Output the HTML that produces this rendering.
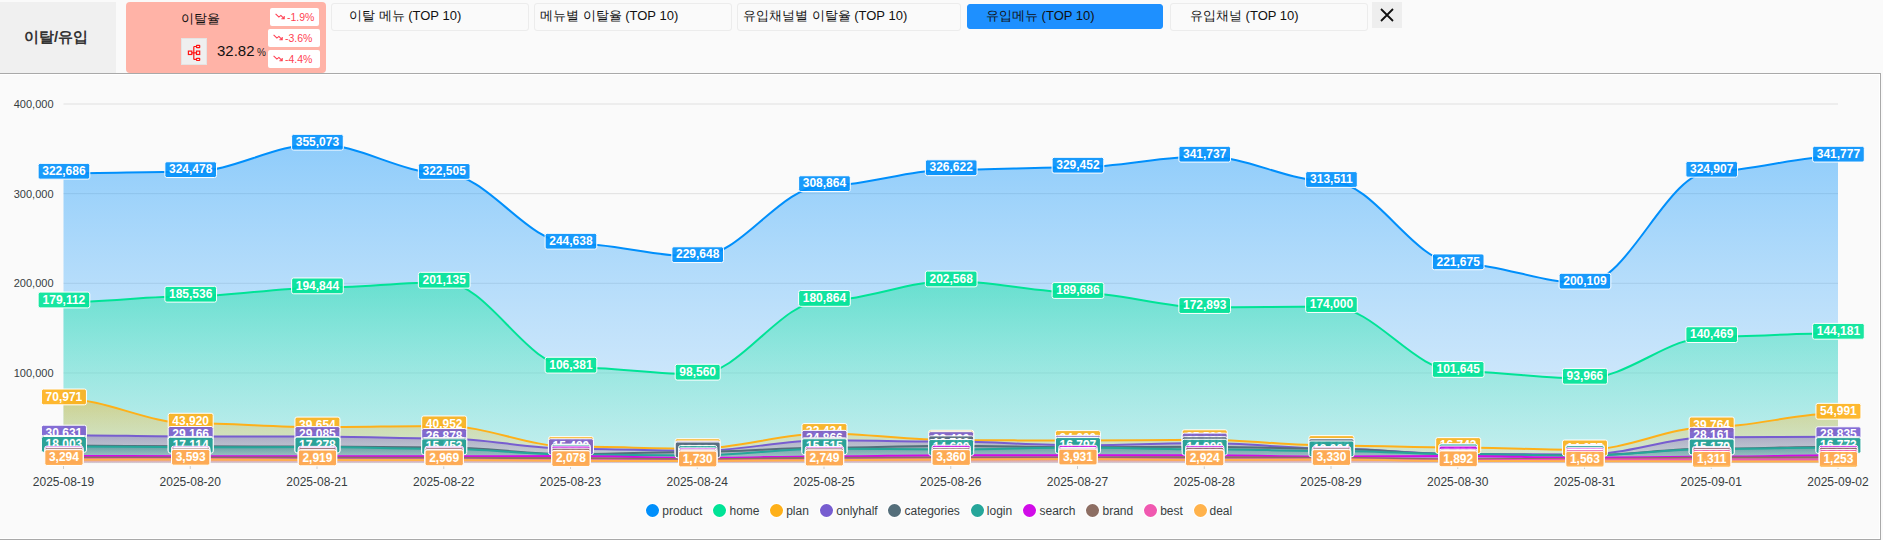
<!DOCTYPE html>
<html><head><meta charset="utf-8"><style>
*{margin:0;padding:0;box-sizing:border-box}
html,body{width:1883px;height:540px;overflow:hidden;background:#fafafa;font-family:"Liberation Sans",sans-serif}
.abs{position:absolute}
.tab{position:absolute;border:1px solid #ececec;border-radius:3px;background:#fafafa;font-size:13px;color:#111;white-space:nowrap}
.tab span{position:absolute;top:3px}
.badge{position:absolute;background:#fff;border-radius:2px;color:#ff3f52;font-size:10.5px;line-height:19px;white-space:nowrap;text-align:left}
</style></head><body>
<div class="abs" style="left:0;top:2px;width:116px;height:71px;background:#f0f0f0"></div>
<div class="abs" style="left:0;top:28px;width:112px;text-align:center;font-size:15px;font-weight:bold;color:#333;line-height:18px">이탈/유입</div>
<div class="abs" style="left:126px;top:2px;width:200px;height:71px;background:#ffb3a7;border-radius:4px"></div>
<div class="abs" style="left:181px;top:11px;font-size:13px;line-height:15px;color:#111">이탈율</div>
<div class="abs" style="left:181px;top:38px;width:26px;height:27px;background:#efefef;border:1px solid #e4e4e4"></div>
<svg class="abs" style="left:186px;top:44px" width="16" height="18" viewBox="0 0 16 18"><g fill="none" stroke="#ff1414" stroke-width="1.2"><rect x="2.4" y="7.1" width="3.4" height="3.4"/><rect x="10.5" y="1.4" width="3.2" height="2.2" rx="0.4"/><rect x="10.5" y="7.1" width="3.2" height="3.4"/><rect x="10.5" y="14.3" width="3.2" height="2.2" rx="0.4"/><path d="M5.8 8.8H7.8M7.8 2.5V15.4M7.8 2.5H10.5M7.8 8.8H10.5M7.8 15.4H10.5"/></g></svg>
<div class="abs" style="left:217px;top:42px;font-size:15px;line-height:18px;color:#111">32.82</div>
<div class="abs" style="left:257px;top:47px;font-size:10px;line-height:12px;color:#222">%</div>
<div class="badge" style="left:270px;top:8px;width:49px;height:18px;padding-left:5px"><svg width="10" height="7" viewBox="0 0 10 7" style="display:inline-block;vertical-align:1px;margin-right:2px"><path d="M0.6 0.8L3.9 4.1L5.9 2.4L9 5.6M6.4 5.8H9.2V3.1" fill="none" stroke="#ff3f52" stroke-width="1.1"/></svg>-1.9%</div>
<div class="badge" style="left:268px;top:29px;width:52px;height:18px;padding-left:5px"><svg width="10" height="7" viewBox="0 0 10 7" style="display:inline-block;vertical-align:1px;margin-right:2px"><path d="M0.6 0.8L3.9 4.1L5.9 2.4L9 5.6M6.4 5.8H9.2V3.1" fill="none" stroke="#ff3f52" stroke-width="1.1"/></svg>-3.6%</div>
<div class="badge" style="left:268px;top:50px;width:52px;height:18px;padding-left:5px"><svg width="10" height="7" viewBox="0 0 10 7" style="display:inline-block;vertical-align:1px;margin-right:2px"><path d="M0.6 0.8L3.9 4.1L5.9 2.4L9 5.6M6.4 5.8H9.2V3.1" fill="none" stroke="#ff3f52" stroke-width="1.1"/></svg>-4.4%</div>
<div class="tab" style="left:331px;top:3px;width:198px;height:28px"><span style="left:17px">이탈 메뉴 (TOP 10)</span></div>
<div class="tab" style="left:534px;top:3px;width:198px;height:28px"><span style="left:5px">메뉴별 이탈율 (TOP 10)</span></div>
<div class="tab" style="left:737px;top:3px;width:224px;height:28px"><span style="left:5px">유입채널별 이탈율 (TOP 10)</span></div>
<div class="tab" style="left:967px;top:4px;width:196px;height:25px;background:#1e90ff;border-color:#1e90ff"><span style="left:18px;top:2px">유입메뉴 (TOP 10)</span></div>
<div class="tab" style="left:1170px;top:3px;width:198px;height:28px"><span style="left:19px">유입채널 (TOP 10)</span></div>
<div class="abs" style="left:1372px;top:2px;width:30px;height:26px;background:#eeeeee"></div>
<svg class="abs" style="left:1380px;top:8px" width="14" height="14"><path d="M1 1L13 13M13 1L1 13" stroke="#111" stroke-width="1.8"/></svg>
<div class="abs" style="left:0;top:73px;width:1881px;height:467px;border-top:1px solid #a9a9a9;border-right:1px solid #a9a9a9;border-bottom:1px solid #a9a9a9"></div>
<div class="abs" style="left:0;top:74px;width:1880px;height:465px;border-top:1px solid #fff;border-right:1px solid #fff;border-bottom:1px solid #fff"></div>
<svg width="1883" height="540" style="position:absolute;left:0;top:0" font-family="Liberation Sans, sans-serif">
<defs>
<linearGradient id="g0" x1="0" y1="0" x2="0" y2="1"><stop offset="0" stop-color="#008FFB" stop-opacity="0.430"/><stop offset="1" stop-color="#80c7fd" stop-opacity="0.250"/></linearGradient>
<linearGradient id="g1" x1="0" y1="0" x2="0" y2="1"><stop offset="0" stop-color="#00E396" stop-opacity="0.430"/><stop offset="1" stop-color="#80f1ca" stop-opacity="0.250"/></linearGradient>
<linearGradient id="g2" x1="0" y1="0" x2="0" y2="1"><stop offset="0" stop-color="#FEB019" stop-opacity="0.430"/><stop offset="1" stop-color="#fed88c" stop-opacity="0.250"/></linearGradient>
<linearGradient id="g3" x1="0" y1="0" x2="0" y2="1"><stop offset="0" stop-color="#775DD0" stop-opacity="0.430"/><stop offset="1" stop-color="#bbaee8" stop-opacity="0.250"/></linearGradient>
<linearGradient id="g4" x1="0" y1="0" x2="0" y2="1"><stop offset="0" stop-color="#546E7A" stop-opacity="0.430"/><stop offset="1" stop-color="#aab6bc" stop-opacity="0.250"/></linearGradient>
<linearGradient id="g5" x1="0" y1="0" x2="0" y2="1"><stop offset="0" stop-color="#26A69A" stop-opacity="0.430"/><stop offset="1" stop-color="#92d2cc" stop-opacity="0.250"/></linearGradient>
<linearGradient id="g6" x1="0" y1="0" x2="0" y2="1"><stop offset="0" stop-color="#D10CE8" stop-opacity="0.430"/><stop offset="1" stop-color="#e886f4" stop-opacity="0.250"/></linearGradient>
<linearGradient id="g7" x1="0" y1="0" x2="0" y2="1"><stop offset="0" stop-color="#8D6E63" stop-opacity="0.430"/><stop offset="1" stop-color="#c6b6b1" stop-opacity="0.250"/></linearGradient>
<linearGradient id="g8" x1="0" y1="0" x2="0" y2="1"><stop offset="0" stop-color="#F058B0" stop-opacity="0.430"/><stop offset="1" stop-color="#f8acd8" stop-opacity="0.250"/></linearGradient>
<linearGradient id="g9" x1="0" y1="0" x2="0" y2="1"><stop offset="0" stop-color="#FFB24B" stop-opacity="0.430"/><stop offset="1" stop-color="#ffd8a5" stop-opacity="0.250"/></linearGradient>
</defs>
<line x1="63.50" y1="462.60" x2="1838.00" y2="462.60" stroke="#e0e0e0" stroke-width="1"/>
<line x1="63.50" y1="372.95" x2="1838.00" y2="372.95" stroke="#e0e0e0" stroke-width="1"/>
<line x1="63.50" y1="283.30" x2="1838.00" y2="283.30" stroke="#e0e0e0" stroke-width="1"/>
<line x1="63.50" y1="193.65" x2="1838.00" y2="193.65" stroke="#e0e0e0" stroke-width="1"/>
<line x1="63.50" y1="104.00" x2="1838.00" y2="104.00" stroke="#e0e0e0" stroke-width="1"/>
<text x="53.5" y="376.85" text-anchor="end" font-size="11" fill="#373d3f">100,000</text>
<text x="53.5" y="287.20" text-anchor="end" font-size="11" fill="#373d3f">200,000</text>
<text x="53.5" y="197.55" text-anchor="end" font-size="11" fill="#373d3f">300,000</text>
<text x="53.5" y="107.90" text-anchor="end" font-size="11" fill="#373d3f">400,000</text>
<path d="M63.50,173.31C107.86,173.31 145.89,171.71 190.25,171.71C234.61,171.71 272.64,144.28 317.00,144.28C361.36,144.28 399.39,173.47 443.75,173.47C488.11,173.47 526.14,243.28 570.50,243.28C614.86,243.28 652.89,256.72 697.25,256.72C741.61,256.72 779.64,185.70 824.00,185.70C868.36,185.70 906.39,169.78 950.75,169.78C995.11,169.78 1033.14,167.25 1077.50,167.25C1121.86,167.25 1159.89,156.23 1204.25,156.23C1248.61,156.23 1286.64,181.54 1331.00,181.54C1375.36,181.54 1413.39,263.87 1457.75,263.87C1502.11,263.87 1540.14,283.20 1584.50,283.20C1628.86,283.20 1666.89,171.32 1711.25,171.32C1755.61,171.32 1793.64,156.20 1838.00,156.20L1838.00,462.60L63.50,462.60Z" fill="url(#g0)"/>
<path d="M63.50,173.31C107.86,173.31 145.89,171.71 190.25,171.71C234.61,171.71 272.64,144.28 317.00,144.28C361.36,144.28 399.39,173.47 443.75,173.47C488.11,173.47 526.14,243.28 570.50,243.28C614.86,243.28 652.89,256.72 697.25,256.72C741.61,256.72 779.64,185.70 824.00,185.70C868.36,185.70 906.39,169.78 950.75,169.78C995.11,169.78 1033.14,167.25 1077.50,167.25C1121.86,167.25 1159.89,156.23 1204.25,156.23C1248.61,156.23 1286.64,181.54 1331.00,181.54C1375.36,181.54 1413.39,263.87 1457.75,263.87C1502.11,263.87 1540.14,283.20 1584.50,283.20C1628.86,283.20 1666.89,171.32 1711.25,171.32C1755.61,171.32 1793.64,156.20 1838.00,156.20" fill="none" stroke="#008FFB" stroke-width="2" stroke-linecap="butt"/>
<path d="M63.50,302.03C107.86,302.03 145.89,296.27 190.25,296.27C234.61,296.27 272.64,287.92 317.00,287.92C361.36,287.92 399.39,282.28 443.75,282.28C488.11,282.28 526.14,367.23 570.50,367.23C614.86,367.23 652.89,374.24 697.25,374.24C741.61,374.24 779.64,300.46 824.00,300.46C868.36,300.46 906.39,281.00 950.75,281.00C995.11,281.00 1033.14,292.55 1077.50,292.55C1121.86,292.55 1159.89,307.60 1204.25,307.60C1248.61,307.60 1286.64,306.61 1331.00,306.61C1375.36,306.61 1413.39,371.48 1457.75,371.48C1502.11,371.48 1540.14,378.36 1584.50,378.36C1628.86,378.36 1666.89,336.67 1711.25,336.67C1755.61,336.67 1793.64,333.34 1838.00,333.34L1838.00,462.60L63.50,462.60Z" fill="url(#g1)"/>
<path d="M63.50,302.03C107.86,302.03 145.89,296.27 190.25,296.27C234.61,296.27 272.64,287.92 317.00,287.92C361.36,287.92 399.39,282.28 443.75,282.28C488.11,282.28 526.14,367.23 570.50,367.23C614.86,367.23 652.89,374.24 697.25,374.24C741.61,374.24 779.64,300.46 824.00,300.46C868.36,300.46 906.39,281.00 950.75,281.00C995.11,281.00 1033.14,292.55 1077.50,292.55C1121.86,292.55 1159.89,307.60 1204.25,307.60C1248.61,307.60 1286.64,306.61 1331.00,306.61C1375.36,306.61 1413.39,371.48 1457.75,371.48C1502.11,371.48 1540.14,378.36 1584.50,378.36C1628.86,378.36 1666.89,336.67 1711.25,336.67C1755.61,336.67 1793.64,333.34 1838.00,333.34" fill="none" stroke="#00E396" stroke-width="2" stroke-linecap="butt"/>
<path d="M63.50,398.97C107.86,398.97 145.89,423.23 190.25,423.23C234.61,423.23 272.64,427.05 317.00,427.05C361.36,427.05 399.39,425.89 443.75,425.89C488.11,425.89 526.14,446.61 570.50,446.61C614.86,446.61 652.89,448.66 697.25,448.66C741.61,448.66 779.64,433.52 824.00,433.52C868.36,433.52 906.39,440.19 950.75,440.19C995.11,440.19 1033.14,440.55 1077.50,440.55C1121.86,440.55 1159.89,439.74 1204.25,439.74C1248.61,439.74 1286.64,445.57 1331.00,445.57C1375.36,445.57 1413.39,447.59 1457.75,447.59C1502.11,447.59 1540.14,449.98 1584.50,449.98C1628.86,449.98 1666.89,426.95 1711.25,426.95C1755.61,426.95 1793.64,413.30 1838.00,413.30L1838.00,462.60L63.50,462.60Z" fill="url(#g2)"/>
<path d="M63.50,398.97C107.86,398.97 145.89,423.23 190.25,423.23C234.61,423.23 272.64,427.05 317.00,427.05C361.36,427.05 399.39,425.89 443.75,425.89C488.11,425.89 526.14,446.61 570.50,446.61C614.86,446.61 652.89,448.66 697.25,448.66C741.61,448.66 779.64,433.52 824.00,433.52C868.36,433.52 906.39,440.19 950.75,440.19C995.11,440.19 1033.14,440.55 1077.50,440.55C1121.86,440.55 1159.89,439.74 1204.25,439.74C1248.61,439.74 1286.64,445.57 1331.00,445.57C1375.36,445.57 1413.39,447.59 1457.75,447.59C1502.11,447.59 1540.14,449.98 1584.50,449.98C1628.86,449.98 1666.89,426.95 1711.25,426.95C1755.61,426.95 1793.64,413.30 1838.00,413.30" fill="none" stroke="#FEB019" stroke-width="2" stroke-linecap="butt"/>
<path d="M63.50,435.14C107.86,435.14 145.89,436.45 190.25,436.45C234.61,436.45 272.64,436.53 317.00,436.53C361.36,436.53 399.39,438.50 443.75,438.50C488.11,438.50 526.14,448.72 570.50,448.72C614.86,448.72 652.89,450.95 697.25,450.95C741.61,450.95 779.64,440.31 824.00,440.31C868.36,440.31 906.39,441.62 950.75,441.62C995.11,441.62 1033.14,445.30 1077.50,445.30C1121.86,445.30 1159.89,443.06 1204.25,443.06C1248.61,443.06 1286.64,448.44 1331.00,448.44C1375.36,448.44 1413.39,453.99 1457.75,453.99C1502.11,453.99 1540.14,454.53 1584.50,454.53C1628.86,454.53 1666.89,437.35 1711.25,437.35C1755.61,437.35 1793.64,436.75 1838.00,436.75L1838.00,462.60L63.50,462.60Z" fill="url(#g3)"/>
<path d="M63.50,435.14C107.86,435.14 145.89,436.45 190.25,436.45C234.61,436.45 272.64,436.53 317.00,436.53C361.36,436.53 399.39,438.50 443.75,438.50C488.11,438.50 526.14,448.72 570.50,448.72C614.86,448.72 652.89,450.95 697.25,450.95C741.61,450.95 779.64,440.31 824.00,440.31C868.36,440.31 906.39,441.62 950.75,441.62C995.11,441.62 1033.14,445.30 1077.50,445.30C1121.86,445.30 1159.89,443.06 1204.25,443.06C1248.61,443.06 1286.64,448.44 1331.00,448.44C1375.36,448.44 1413.39,453.99 1457.75,453.99C1502.11,453.99 1540.14,454.53 1584.50,454.53C1628.86,454.53 1666.89,437.35 1711.25,437.35C1755.61,437.35 1793.64,436.75 1838.00,436.75" fill="none" stroke="#775DD0" stroke-width="2" stroke-linecap="butt"/>
<path d="M63.50,445.39C107.86,445.39 145.89,446.37 190.25,446.37C234.61,446.37 272.64,446.55 317.00,446.55C361.36,446.55 399.39,447.54 443.75,447.54C488.11,447.54 526.14,454.08 570.50,454.08C614.86,454.08 652.89,451.93 697.25,451.93C741.61,451.93 779.64,447.81 824.00,447.81C868.36,447.81 906.39,445.84 950.75,445.84C995.11,445.84 1033.14,447.18 1077.50,447.18C1121.86,447.18 1159.89,446.64 1204.25,446.64C1248.61,446.64 1286.64,448.70 1331.00,448.70C1375.36,448.70 1413.39,454.17 1457.75,454.17C1502.11,454.17 1540.14,455.43 1584.50,455.43C1628.86,455.43 1666.89,448.61 1711.25,448.61C1755.61,448.61 1793.64,446.64 1838.00,446.64L1838.00,462.60L63.50,462.60Z" fill="url(#g4)"/>
<path d="M63.50,445.39C107.86,445.39 145.89,446.37 190.25,446.37C234.61,446.37 272.64,446.55 317.00,446.55C361.36,446.55 399.39,447.54 443.75,447.54C488.11,447.54 526.14,454.08 570.50,454.08C614.86,454.08 652.89,451.93 697.25,451.93C741.61,451.93 779.64,447.81 824.00,447.81C868.36,447.81 906.39,445.84 950.75,445.84C995.11,445.84 1033.14,447.18 1077.50,447.18C1121.86,447.18 1159.89,446.64 1204.25,446.64C1248.61,446.64 1286.64,448.70 1331.00,448.70C1375.36,448.70 1413.39,454.17 1457.75,454.17C1502.11,454.17 1540.14,455.43 1584.50,455.43C1628.86,455.43 1666.89,448.61 1711.25,448.61C1755.61,448.61 1793.64,446.64 1838.00,446.64" fill="none" stroke="#546E7A" stroke-width="2" stroke-linecap="butt"/>
<path d="M63.50,446.46C107.86,446.46 145.89,447.26 190.25,447.26C234.61,447.26 272.64,447.11 317.00,447.11C361.36,447.11 399.39,448.75 443.75,448.75C488.11,448.75 526.14,454.53 570.50,454.53C614.86,454.53 652.89,455.54 697.25,455.54C741.61,455.54 779.64,448.69 824.00,448.69C868.36,448.69 906.39,449.51 950.75,449.51C995.11,449.51 1033.14,447.54 1077.50,447.54C1121.86,447.54 1159.89,449.24 1204.25,449.24C1248.61,449.24 1286.64,450.94 1331.00,450.94C1375.36,450.94 1413.39,453.90 1457.75,453.90C1502.11,453.90 1540.14,455.63 1584.50,455.63C1628.86,455.63 1666.89,448.99 1711.25,448.99C1755.61,448.99 1793.64,447.56 1838.00,447.56L1838.00,462.60L63.50,462.60Z" fill="url(#g5)"/>
<path d="M63.50,446.46C107.86,446.46 145.89,447.26 190.25,447.26C234.61,447.26 272.64,447.11 317.00,447.11C361.36,447.11 399.39,448.75 443.75,448.75C488.11,448.75 526.14,454.53 570.50,454.53C614.86,454.53 652.89,455.54 697.25,455.54C741.61,455.54 779.64,448.69 824.00,448.69C868.36,448.69 906.39,449.51 950.75,449.51C995.11,449.51 1033.14,447.54 1077.50,447.54C1121.86,447.54 1159.89,449.24 1204.25,449.24C1248.61,449.24 1286.64,450.94 1331.00,450.94C1375.36,450.94 1413.39,453.90 1457.75,453.90C1502.11,453.90 1540.14,455.63 1584.50,455.63C1628.86,455.63 1666.89,448.99 1711.25,448.99C1755.61,448.99 1793.64,447.56 1838.00,447.56" fill="none" stroke="#26A69A" stroke-width="2" stroke-linecap="butt"/>
<path d="M63.50,456.06C107.86,456.06 145.89,456.15 190.25,456.15C234.61,456.15 272.64,456.32 317.00,456.32C361.36,456.32 399.39,456.32 443.75,456.32C488.11,456.32 526.14,455.97 570.50,455.97C614.86,455.97 652.89,457.85 697.25,457.85C741.61,457.85 779.64,456.41 824.00,456.41C868.36,456.41 906.39,455.16 950.75,455.16C995.11,455.16 1033.14,455.25 1077.50,455.25C1121.86,455.25 1159.89,455.34 1204.25,455.34C1248.61,455.34 1286.64,456.50 1331.00,456.50C1375.36,456.50 1413.39,455.97 1457.75,455.97C1502.11,455.97 1540.14,457.67 1584.50,457.67C1628.86,457.67 1666.89,456.59 1711.25,456.59C1755.61,456.59 1793.64,455.34 1838.00,455.34L1838.00,462.60L63.50,462.60Z" fill="url(#g6)"/>
<path d="M63.50,456.06C107.86,456.06 145.89,456.15 190.25,456.15C234.61,456.15 272.64,456.32 317.00,456.32C361.36,456.32 399.39,456.32 443.75,456.32C488.11,456.32 526.14,455.97 570.50,455.97C614.86,455.97 652.89,457.85 697.25,457.85C741.61,457.85 779.64,456.41 824.00,456.41C868.36,456.41 906.39,455.16 950.75,455.16C995.11,455.16 1033.14,455.25 1077.50,455.25C1121.86,455.25 1159.89,455.34 1204.25,455.34C1248.61,455.34 1286.64,456.50 1331.00,456.50C1375.36,456.50 1413.39,455.97 1457.75,455.97C1502.11,455.97 1540.14,457.67 1584.50,457.67C1628.86,457.67 1666.89,456.59 1711.25,456.59C1755.61,456.59 1793.64,455.34 1838.00,455.34" fill="none" stroke="#D10CE8" stroke-width="2" stroke-linecap="butt"/>
<path d="M63.50,457.40C107.86,457.40 145.89,457.49 190.25,457.49C234.61,457.49 272.64,457.58 317.00,457.58C361.36,457.58 399.39,457.67 443.75,457.67C488.11,457.67 526.14,458.12 570.50,458.12C614.86,458.12 652.89,459.19 697.25,459.19C741.61,459.19 779.64,457.85 824.00,457.85C868.36,457.85 906.39,457.40 950.75,457.40C995.11,457.40 1033.14,457.40 1077.50,457.40C1121.86,457.40 1159.89,457.22 1204.25,457.22C1248.61,457.22 1286.64,457.67 1331.00,457.67C1375.36,457.67 1413.39,459.19 1457.75,459.19C1502.11,459.19 1540.14,459.01 1584.50,459.01C1628.86,459.01 1666.89,457.58 1711.25,457.58C1755.61,457.58 1793.64,457.22 1838.00,457.22L1838.00,462.60L63.50,462.60Z" fill="url(#g7)"/>
<path d="M63.50,457.40C107.86,457.40 145.89,457.49 190.25,457.49C234.61,457.49 272.64,457.58 317.00,457.58C361.36,457.58 399.39,457.67 443.75,457.67C488.11,457.67 526.14,458.12 570.50,458.12C614.86,458.12 652.89,459.19 697.25,459.19C741.61,459.19 779.64,457.85 824.00,457.85C868.36,457.85 906.39,457.40 950.75,457.40C995.11,457.40 1033.14,457.40 1077.50,457.40C1121.86,457.40 1159.89,457.22 1204.25,457.22C1248.61,457.22 1286.64,457.67 1331.00,457.67C1375.36,457.67 1413.39,459.19 1457.75,459.19C1502.11,459.19 1540.14,459.01 1584.50,459.01C1628.86,459.01 1666.89,457.58 1711.25,457.58C1755.61,457.58 1793.64,457.22 1838.00,457.22" fill="none" stroke="#8D6E63" stroke-width="2" stroke-linecap="butt"/>
<path d="M63.50,459.19C107.86,459.19 145.89,459.01 190.25,459.01C234.61,459.01 272.64,459.64 317.00,459.64C361.36,459.64 399.39,459.55 443.75,459.55C488.11,459.55 526.14,460.36 570.50,460.36C614.86,460.36 652.89,460.63 697.25,460.63C741.61,460.63 779.64,459.82 824.00,459.82C868.36,459.82 906.39,459.19 950.75,459.19C995.11,459.19 1033.14,458.75 1077.50,458.75C1121.86,458.75 1159.89,459.64 1204.25,459.64C1248.61,459.64 1286.64,459.28 1331.00,459.28C1375.36,459.28 1413.39,460.54 1457.75,460.54C1502.11,460.54 1540.14,459.46 1584.50,459.46C1628.86,459.46 1666.89,459.55 1711.25,459.55C1755.61,459.55 1793.64,459.55 1838.00,459.55L1838.00,462.60L63.50,462.60Z" fill="url(#g8)"/>
<path d="M63.50,459.19C107.86,459.19 145.89,459.01 190.25,459.01C234.61,459.01 272.64,459.64 317.00,459.64C361.36,459.64 399.39,459.55 443.75,459.55C488.11,459.55 526.14,460.36 570.50,460.36C614.86,460.36 652.89,460.63 697.25,460.63C741.61,460.63 779.64,459.82 824.00,459.82C868.36,459.82 906.39,459.19 950.75,459.19C995.11,459.19 1033.14,458.75 1077.50,458.75C1121.86,458.75 1159.89,459.64 1204.25,459.64C1248.61,459.64 1286.64,459.28 1331.00,459.28C1375.36,459.28 1413.39,460.54 1457.75,460.54C1502.11,460.54 1540.14,459.46 1584.50,459.46C1628.86,459.46 1666.89,459.55 1711.25,459.55C1755.61,459.55 1793.64,459.55 1838.00,459.55" fill="none" stroke="#F058B0" stroke-width="2" stroke-linecap="butt"/>
<path d="M63.50,459.65C107.86,459.65 145.89,459.38 190.25,459.38C234.61,459.38 272.64,459.98 317.00,459.98C361.36,459.98 399.39,459.94 443.75,459.94C488.11,459.94 526.14,460.74 570.50,460.74C614.86,460.74 652.89,461.05 697.25,461.05C741.61,461.05 779.64,460.14 824.00,460.14C868.36,460.14 906.39,459.59 950.75,459.59C995.11,459.59 1033.14,459.08 1077.50,459.08C1121.86,459.08 1159.89,459.98 1204.25,459.98C1248.61,459.98 1286.64,459.61 1331.00,459.61C1375.36,459.61 1413.39,460.90 1457.75,460.90C1502.11,460.90 1540.14,461.20 1584.50,461.20C1628.86,461.20 1666.89,461.42 1711.25,461.42C1755.61,461.42 1793.64,461.48 1838.00,461.48L1838.00,462.60L63.50,462.60Z" fill="url(#g9)"/>
<path d="M63.50,459.65C107.86,459.65 145.89,459.38 190.25,459.38C234.61,459.38 272.64,459.98 317.00,459.98C361.36,459.98 399.39,459.94 443.75,459.94C488.11,459.94 526.14,460.74 570.50,460.74C614.86,460.74 652.89,461.05 697.25,461.05C741.61,461.05 779.64,460.14 824.00,460.14C868.36,460.14 906.39,459.59 950.75,459.59C995.11,459.59 1033.14,459.08 1077.50,459.08C1121.86,459.08 1159.89,459.98 1204.25,459.98C1248.61,459.98 1286.64,459.61 1331.00,459.61C1375.36,459.61 1413.39,460.90 1457.75,460.90C1502.11,460.90 1540.14,461.20 1584.50,461.20C1628.86,461.20 1666.89,461.42 1711.25,461.42C1755.61,461.42 1793.64,461.48 1838.00,461.48" fill="none" stroke="#FFB24B" stroke-width="2" stroke-linecap="butt"/>
<line x1="63.50" y1="466" x2="63.50" y2="469" stroke="#cccccc" stroke-width="1"/>
<text x="63.50" y="486" text-anchor="middle" font-size="12" fill="#373d3f">2025-08-19</text>
<line x1="190.25" y1="466" x2="190.25" y2="469" stroke="#cccccc" stroke-width="1"/>
<text x="190.25" y="486" text-anchor="middle" font-size="12" fill="#373d3f">2025-08-20</text>
<line x1="317.00" y1="466" x2="317.00" y2="469" stroke="#cccccc" stroke-width="1"/>
<text x="317.00" y="486" text-anchor="middle" font-size="12" fill="#373d3f">2025-08-21</text>
<line x1="443.75" y1="466" x2="443.75" y2="469" stroke="#cccccc" stroke-width="1"/>
<text x="443.75" y="486" text-anchor="middle" font-size="12" fill="#373d3f">2025-08-22</text>
<line x1="570.50" y1="466" x2="570.50" y2="469" stroke="#cccccc" stroke-width="1"/>
<text x="570.50" y="486" text-anchor="middle" font-size="12" fill="#373d3f">2025-08-23</text>
<line x1="697.25" y1="466" x2="697.25" y2="469" stroke="#cccccc" stroke-width="1"/>
<text x="697.25" y="486" text-anchor="middle" font-size="12" fill="#373d3f">2025-08-24</text>
<line x1="824.00" y1="466" x2="824.00" y2="469" stroke="#cccccc" stroke-width="1"/>
<text x="824.00" y="486" text-anchor="middle" font-size="12" fill="#373d3f">2025-08-25</text>
<line x1="950.75" y1="466" x2="950.75" y2="469" stroke="#cccccc" stroke-width="1"/>
<text x="950.75" y="486" text-anchor="middle" font-size="12" fill="#373d3f">2025-08-26</text>
<line x1="1077.50" y1="466" x2="1077.50" y2="469" stroke="#cccccc" stroke-width="1"/>
<text x="1077.50" y="486" text-anchor="middle" font-size="12" fill="#373d3f">2025-08-27</text>
<line x1="1204.25" y1="466" x2="1204.25" y2="469" stroke="#cccccc" stroke-width="1"/>
<text x="1204.25" y="486" text-anchor="middle" font-size="12" fill="#373d3f">2025-08-28</text>
<line x1="1331.00" y1="466" x2="1331.00" y2="469" stroke="#cccccc" stroke-width="1"/>
<text x="1331.00" y="486" text-anchor="middle" font-size="12" fill="#373d3f">2025-08-29</text>
<line x1="1457.75" y1="466" x2="1457.75" y2="469" stroke="#cccccc" stroke-width="1"/>
<text x="1457.75" y="486" text-anchor="middle" font-size="12" fill="#373d3f">2025-08-30</text>
<line x1="1584.50" y1="466" x2="1584.50" y2="469" stroke="#cccccc" stroke-width="1"/>
<text x="1584.50" y="486" text-anchor="middle" font-size="12" fill="#373d3f">2025-08-31</text>
<line x1="1711.25" y1="466" x2="1711.25" y2="469" stroke="#cccccc" stroke-width="1"/>
<text x="1711.25" y="486" text-anchor="middle" font-size="12" fill="#373d3f">2025-09-01</text>
<line x1="1838.00" y1="466" x2="1838.00" y2="469" stroke="#cccccc" stroke-width="1"/>
<text x="1838.00" y="486" text-anchor="middle" font-size="12" fill="#373d3f">2025-09-02</text>
<rect x="38.12" y="163.36" width="51.67" height="15.8" rx="2" fill="#008FFB" fill-opacity="0.9" stroke="#fff" stroke-width="1"/>
<text x="63.95" y="174.96" text-anchor="middle" font-size="12" font-weight="bold" fill="#fff">322,686</text>
<rect x="164.87" y="161.76" width="51.67" height="15.8" rx="2" fill="#008FFB" fill-opacity="0.9" stroke="#fff" stroke-width="1"/>
<text x="190.70" y="173.36" text-anchor="middle" font-size="12" font-weight="bold" fill="#fff">324,478</text>
<rect x="291.62" y="134.33" width="51.67" height="15.8" rx="2" fill="#008FFB" fill-opacity="0.9" stroke="#fff" stroke-width="1"/>
<text x="317.45" y="145.93" text-anchor="middle" font-size="12" font-weight="bold" fill="#fff">355,073</text>
<rect x="418.37" y="163.52" width="51.67" height="15.8" rx="2" fill="#008FFB" fill-opacity="0.9" stroke="#fff" stroke-width="1"/>
<text x="444.20" y="175.12" text-anchor="middle" font-size="12" font-weight="bold" fill="#fff">322,505</text>
<rect x="545.12" y="233.33" width="51.67" height="15.8" rx="2" fill="#008FFB" fill-opacity="0.9" stroke="#fff" stroke-width="1"/>
<text x="570.95" y="244.93" text-anchor="middle" font-size="12" font-weight="bold" fill="#fff">244,638</text>
<rect x="671.87" y="246.77" width="51.67" height="15.8" rx="2" fill="#008FFB" fill-opacity="0.9" stroke="#fff" stroke-width="1"/>
<text x="697.70" y="258.37" text-anchor="middle" font-size="12" font-weight="bold" fill="#fff">229,648</text>
<rect x="798.62" y="175.75" width="51.67" height="15.8" rx="2" fill="#008FFB" fill-opacity="0.9" stroke="#fff" stroke-width="1"/>
<text x="824.45" y="187.35" text-anchor="middle" font-size="12" font-weight="bold" fill="#fff">308,864</text>
<rect x="925.37" y="159.83" width="51.67" height="15.8" rx="2" fill="#008FFB" fill-opacity="0.9" stroke="#fff" stroke-width="1"/>
<text x="951.20" y="171.43" text-anchor="middle" font-size="12" font-weight="bold" fill="#fff">326,622</text>
<rect x="1052.12" y="157.30" width="51.67" height="15.8" rx="2" fill="#008FFB" fill-opacity="0.9" stroke="#fff" stroke-width="1"/>
<text x="1077.95" y="168.90" text-anchor="middle" font-size="12" font-weight="bold" fill="#fff">329,452</text>
<rect x="1178.87" y="146.28" width="51.67" height="15.8" rx="2" fill="#008FFB" fill-opacity="0.9" stroke="#fff" stroke-width="1"/>
<text x="1204.70" y="157.88" text-anchor="middle" font-size="12" font-weight="bold" fill="#fff">341,737</text>
<rect x="1305.62" y="171.59" width="51.67" height="15.8" rx="2" fill="#008FFB" fill-opacity="0.9" stroke="#fff" stroke-width="1"/>
<text x="1331.45" y="183.19" text-anchor="middle" font-size="12" font-weight="bold" fill="#fff">313,511</text>
<rect x="1432.37" y="253.92" width="51.67" height="15.8" rx="2" fill="#008FFB" fill-opacity="0.9" stroke="#fff" stroke-width="1"/>
<text x="1458.20" y="265.52" text-anchor="middle" font-size="12" font-weight="bold" fill="#fff">221,675</text>
<rect x="1559.12" y="273.25" width="51.67" height="15.8" rx="2" fill="#008FFB" fill-opacity="0.9" stroke="#fff" stroke-width="1"/>
<text x="1584.95" y="284.85" text-anchor="middle" font-size="12" font-weight="bold" fill="#fff">200,109</text>
<rect x="1685.87" y="161.37" width="51.67" height="15.8" rx="2" fill="#008FFB" fill-opacity="0.9" stroke="#fff" stroke-width="1"/>
<text x="1711.70" y="172.97" text-anchor="middle" font-size="12" font-weight="bold" fill="#fff">324,907</text>
<rect x="1812.62" y="146.25" width="51.67" height="15.8" rx="2" fill="#008FFB" fill-opacity="0.9" stroke="#fff" stroke-width="1"/>
<text x="1838.45" y="157.85" text-anchor="middle" font-size="12" font-weight="bold" fill="#fff">341,777</text>
<rect x="38.12" y="292.08" width="51.67" height="15.8" rx="2" fill="#00E396" fill-opacity="0.9" stroke="#fff" stroke-width="1"/>
<text x="63.95" y="303.68" text-anchor="middle" font-size="12" font-weight="bold" fill="#fff">179,112</text>
<rect x="164.87" y="286.32" width="51.67" height="15.8" rx="2" fill="#00E396" fill-opacity="0.9" stroke="#fff" stroke-width="1"/>
<text x="190.70" y="297.92" text-anchor="middle" font-size="12" font-weight="bold" fill="#fff">185,536</text>
<rect x="291.62" y="277.97" width="51.67" height="15.8" rx="2" fill="#00E396" fill-opacity="0.9" stroke="#fff" stroke-width="1"/>
<text x="317.45" y="289.57" text-anchor="middle" font-size="12" font-weight="bold" fill="#fff">194,844</text>
<rect x="418.37" y="272.33" width="51.67" height="15.8" rx="2" fill="#00E396" fill-opacity="0.9" stroke="#fff" stroke-width="1"/>
<text x="444.20" y="283.93" text-anchor="middle" font-size="12" font-weight="bold" fill="#fff">201,135</text>
<rect x="545.12" y="357.28" width="51.67" height="15.8" rx="2" fill="#00E396" fill-opacity="0.9" stroke="#fff" stroke-width="1"/>
<text x="570.95" y="368.88" text-anchor="middle" font-size="12" font-weight="bold" fill="#fff">106,381</text>
<rect x="675.20" y="364.29" width="45.00" height="15.8" rx="2" fill="#00E396" fill-opacity="0.9" stroke="#fff" stroke-width="1"/>
<text x="697.70" y="375.89" text-anchor="middle" font-size="12" font-weight="bold" fill="#fff">98,560</text>
<rect x="798.62" y="290.51" width="51.67" height="15.8" rx="2" fill="#00E396" fill-opacity="0.9" stroke="#fff" stroke-width="1"/>
<text x="824.45" y="302.11" text-anchor="middle" font-size="12" font-weight="bold" fill="#fff">180,864</text>
<rect x="925.37" y="271.05" width="51.67" height="15.8" rx="2" fill="#00E396" fill-opacity="0.9" stroke="#fff" stroke-width="1"/>
<text x="951.20" y="282.65" text-anchor="middle" font-size="12" font-weight="bold" fill="#fff">202,568</text>
<rect x="1052.12" y="282.60" width="51.67" height="15.8" rx="2" fill="#00E396" fill-opacity="0.9" stroke="#fff" stroke-width="1"/>
<text x="1077.95" y="294.20" text-anchor="middle" font-size="12" font-weight="bold" fill="#fff">189,686</text>
<rect x="1178.87" y="297.65" width="51.67" height="15.8" rx="2" fill="#00E396" fill-opacity="0.9" stroke="#fff" stroke-width="1"/>
<text x="1204.70" y="309.25" text-anchor="middle" font-size="12" font-weight="bold" fill="#fff">172,893</text>
<rect x="1305.62" y="296.66" width="51.67" height="15.8" rx="2" fill="#00E396" fill-opacity="0.9" stroke="#fff" stroke-width="1"/>
<text x="1331.45" y="308.26" text-anchor="middle" font-size="12" font-weight="bold" fill="#fff">174,000</text>
<rect x="1432.37" y="361.53" width="51.67" height="15.8" rx="2" fill="#00E396" fill-opacity="0.9" stroke="#fff" stroke-width="1"/>
<text x="1458.20" y="373.13" text-anchor="middle" font-size="12" font-weight="bold" fill="#fff">101,645</text>
<rect x="1562.45" y="368.41" width="45.00" height="15.8" rx="2" fill="#00E396" fill-opacity="0.9" stroke="#fff" stroke-width="1"/>
<text x="1584.95" y="380.01" text-anchor="middle" font-size="12" font-weight="bold" fill="#fff">93,966</text>
<rect x="1685.87" y="326.72" width="51.67" height="15.8" rx="2" fill="#00E396" fill-opacity="0.9" stroke="#fff" stroke-width="1"/>
<text x="1711.70" y="338.32" text-anchor="middle" font-size="12" font-weight="bold" fill="#fff">140,469</text>
<rect x="1812.62" y="323.39" width="51.67" height="15.8" rx="2" fill="#00E396" fill-opacity="0.9" stroke="#fff" stroke-width="1"/>
<text x="1838.45" y="334.99" text-anchor="middle" font-size="12" font-weight="bold" fill="#fff">144,181</text>
<rect x="41.45" y="389.02" width="45.00" height="15.8" rx="2" fill="#FEB019" fill-opacity="0.9" stroke="#fff" stroke-width="1"/>
<text x="63.95" y="400.62" text-anchor="middle" font-size="12" font-weight="bold" fill="#fff">70,971</text>
<rect x="168.20" y="413.28" width="45.00" height="15.8" rx="2" fill="#FEB019" fill-opacity="0.9" stroke="#fff" stroke-width="1"/>
<text x="190.70" y="424.88" text-anchor="middle" font-size="12" font-weight="bold" fill="#fff">43,920</text>
<rect x="294.95" y="417.10" width="45.00" height="15.8" rx="2" fill="#FEB019" fill-opacity="0.9" stroke="#fff" stroke-width="1"/>
<text x="317.45" y="428.70" text-anchor="middle" font-size="12" font-weight="bold" fill="#fff">39,654</text>
<rect x="421.70" y="415.94" width="45.00" height="15.8" rx="2" fill="#FEB019" fill-opacity="0.9" stroke="#fff" stroke-width="1"/>
<text x="444.20" y="427.54" text-anchor="middle" font-size="12" font-weight="bold" fill="#fff">40,952</text>
<rect x="548.45" y="436.66" width="45.00" height="15.8" rx="2" fill="#FEB019" fill-opacity="0.9" stroke="#fff" stroke-width="1"/>
<text x="570.95" y="448.26" text-anchor="middle" font-size="12" font-weight="bold" fill="#fff">17,840</text>
<rect x="675.20" y="438.71" width="45.00" height="15.8" rx="2" fill="#FEB019" fill-opacity="0.9" stroke="#fff" stroke-width="1"/>
<text x="697.70" y="450.31" text-anchor="middle" font-size="12" font-weight="bold" fill="#fff">15,550</text>
<rect x="801.95" y="423.57" width="45.00" height="15.8" rx="2" fill="#FEB019" fill-opacity="0.9" stroke="#fff" stroke-width="1"/>
<text x="824.45" y="435.17" text-anchor="middle" font-size="12" font-weight="bold" fill="#fff">32,434</text>
<rect x="928.70" y="430.24" width="45.00" height="15.8" rx="2" fill="#FEB019" fill-opacity="0.9" stroke="#fff" stroke-width="1"/>
<text x="951.20" y="441.84" text-anchor="middle" font-size="12" font-weight="bold" fill="#fff">25,000</text>
<rect x="1055.45" y="430.60" width="45.00" height="15.8" rx="2" fill="#FEB019" fill-opacity="0.9" stroke="#fff" stroke-width="1"/>
<text x="1077.95" y="442.20" text-anchor="middle" font-size="12" font-weight="bold" fill="#fff">24,600</text>
<rect x="1182.20" y="429.79" width="45.00" height="15.8" rx="2" fill="#FEB019" fill-opacity="0.9" stroke="#fff" stroke-width="1"/>
<text x="1204.70" y="441.39" text-anchor="middle" font-size="12" font-weight="bold" fill="#fff">25,500</text>
<rect x="1308.95" y="435.62" width="45.00" height="15.8" rx="2" fill="#FEB019" fill-opacity="0.9" stroke="#fff" stroke-width="1"/>
<text x="1331.45" y="447.22" text-anchor="middle" font-size="12" font-weight="bold" fill="#fff">19,000</text>
<rect x="1435.70" y="437.64" width="45.00" height="15.8" rx="2" fill="#FEB019" fill-opacity="0.9" stroke="#fff" stroke-width="1"/>
<text x="1458.20" y="449.24" text-anchor="middle" font-size="12" font-weight="bold" fill="#fff">16,743</text>
<rect x="1562.45" y="440.03" width="45.00" height="15.8" rx="2" fill="#FEB019" fill-opacity="0.9" stroke="#fff" stroke-width="1"/>
<text x="1584.95" y="451.63" text-anchor="middle" font-size="12" font-weight="bold" fill="#fff">14,075</text>
<rect x="1689.20" y="417.00" width="45.00" height="15.8" rx="2" fill="#FEB019" fill-opacity="0.9" stroke="#fff" stroke-width="1"/>
<text x="1711.70" y="428.60" text-anchor="middle" font-size="12" font-weight="bold" fill="#fff">39,764</text>
<rect x="1815.95" y="403.35" width="45.00" height="15.8" rx="2" fill="#FEB019" fill-opacity="0.9" stroke="#fff" stroke-width="1"/>
<text x="1838.45" y="414.95" text-anchor="middle" font-size="12" font-weight="bold" fill="#fff">54,991</text>
<rect x="41.45" y="425.19" width="45.00" height="15.8" rx="2" fill="#775DD0" fill-opacity="0.9" stroke="#fff" stroke-width="1"/>
<text x="63.95" y="436.79" text-anchor="middle" font-size="12" font-weight="bold" fill="#fff">30,631</text>
<rect x="168.20" y="426.50" width="45.00" height="15.8" rx="2" fill="#775DD0" fill-opacity="0.9" stroke="#fff" stroke-width="1"/>
<text x="190.70" y="438.10" text-anchor="middle" font-size="12" font-weight="bold" fill="#fff">29,166</text>
<rect x="294.95" y="426.58" width="45.00" height="15.8" rx="2" fill="#775DD0" fill-opacity="0.9" stroke="#fff" stroke-width="1"/>
<text x="317.45" y="438.18" text-anchor="middle" font-size="12" font-weight="bold" fill="#fff">29,085</text>
<rect x="421.70" y="428.55" width="45.00" height="15.8" rx="2" fill="#775DD0" fill-opacity="0.9" stroke="#fff" stroke-width="1"/>
<text x="444.20" y="440.15" text-anchor="middle" font-size="12" font-weight="bold" fill="#fff">26,878</text>
<rect x="548.45" y="438.77" width="45.00" height="15.8" rx="2" fill="#775DD0" fill-opacity="0.9" stroke="#fff" stroke-width="1"/>
<text x="570.95" y="450.37" text-anchor="middle" font-size="12" font-weight="bold" fill="#fff">15,480</text>
<rect x="675.20" y="441.00" width="45.00" height="15.8" rx="2" fill="#775DD0" fill-opacity="0.9" stroke="#fff" stroke-width="1"/>
<text x="697.70" y="452.60" text-anchor="middle" font-size="12" font-weight="bold" fill="#fff">13,000</text>
<rect x="801.95" y="430.36" width="45.00" height="15.8" rx="2" fill="#775DD0" fill-opacity="0.9" stroke="#fff" stroke-width="1"/>
<text x="824.45" y="441.96" text-anchor="middle" font-size="12" font-weight="bold" fill="#fff">24,866</text>
<rect x="928.70" y="431.67" width="45.00" height="15.8" rx="2" fill="#775DD0" fill-opacity="0.9" stroke="#fff" stroke-width="1"/>
<text x="951.20" y="443.27" text-anchor="middle" font-size="12" font-weight="bold" fill="#fff">23,400</text>
<rect x="1055.45" y="435.35" width="45.00" height="15.8" rx="2" fill="#775DD0" fill-opacity="0.9" stroke="#fff" stroke-width="1"/>
<text x="1077.95" y="446.95" text-anchor="middle" font-size="12" font-weight="bold" fill="#fff">19,300</text>
<rect x="1182.20" y="433.11" width="45.00" height="15.8" rx="2" fill="#775DD0" fill-opacity="0.9" stroke="#fff" stroke-width="1"/>
<text x="1204.70" y="444.71" text-anchor="middle" font-size="12" font-weight="bold" fill="#fff">21,800</text>
<rect x="1308.95" y="438.49" width="45.00" height="15.8" rx="2" fill="#775DD0" fill-opacity="0.9" stroke="#fff" stroke-width="1"/>
<text x="1331.45" y="450.09" text-anchor="middle" font-size="12" font-weight="bold" fill="#fff">15,800</text>
<rect x="1439.04" y="444.04" width="38.32" height="15.8" rx="2" fill="#775DD0" fill-opacity="0.9" stroke="#fff" stroke-width="1"/>
<text x="1458.20" y="455.64" text-anchor="middle" font-size="12" font-weight="bold" fill="#fff">9,600</text>
<rect x="1565.79" y="444.58" width="38.32" height="15.8" rx="2" fill="#775DD0" fill-opacity="0.9" stroke="#fff" stroke-width="1"/>
<text x="1584.95" y="456.18" text-anchor="middle" font-size="12" font-weight="bold" fill="#fff">9,000</text>
<rect x="1689.20" y="427.40" width="45.00" height="15.8" rx="2" fill="#775DD0" fill-opacity="0.9" stroke="#fff" stroke-width="1"/>
<text x="1711.70" y="439.00" text-anchor="middle" font-size="12" font-weight="bold" fill="#fff">28,161</text>
<rect x="1815.95" y="426.80" width="45.00" height="15.8" rx="2" fill="#775DD0" fill-opacity="0.9" stroke="#fff" stroke-width="1"/>
<text x="1838.45" y="438.40" text-anchor="middle" font-size="12" font-weight="bold" fill="#fff">28,835</text>
<rect x="41.45" y="435.44" width="45.00" height="15.8" rx="2" fill="#546E7A" fill-opacity="0.9" stroke="#fff" stroke-width="1"/>
<text x="63.95" y="447.04" text-anchor="middle" font-size="12" font-weight="bold" fill="#fff">19,200</text>
<rect x="168.20" y="436.42" width="45.00" height="15.8" rx="2" fill="#546E7A" fill-opacity="0.9" stroke="#fff" stroke-width="1"/>
<text x="190.70" y="448.02" text-anchor="middle" font-size="12" font-weight="bold" fill="#fff">18,100</text>
<rect x="294.95" y="436.60" width="45.00" height="15.8" rx="2" fill="#546E7A" fill-opacity="0.9" stroke="#fff" stroke-width="1"/>
<text x="317.45" y="448.20" text-anchor="middle" font-size="12" font-weight="bold" fill="#fff">17,900</text>
<rect x="421.70" y="437.59" width="45.00" height="15.8" rx="2" fill="#546E7A" fill-opacity="0.9" stroke="#fff" stroke-width="1"/>
<text x="444.20" y="449.19" text-anchor="middle" font-size="12" font-weight="bold" fill="#fff">16,800</text>
<rect x="551.79" y="444.13" width="38.32" height="15.8" rx="2" fill="#546E7A" fill-opacity="0.9" stroke="#fff" stroke-width="1"/>
<text x="570.95" y="455.73" text-anchor="middle" font-size="12" font-weight="bold" fill="#fff">9,500</text>
<rect x="675.20" y="441.98" width="45.00" height="15.8" rx="2" fill="#546E7A" fill-opacity="0.9" stroke="#fff" stroke-width="1"/>
<text x="697.70" y="453.58" text-anchor="middle" font-size="12" font-weight="bold" fill="#fff">11,900</text>
<rect x="801.95" y="437.86" width="45.00" height="15.8" rx="2" fill="#546E7A" fill-opacity="0.9" stroke="#fff" stroke-width="1"/>
<text x="824.45" y="449.46" text-anchor="middle" font-size="12" font-weight="bold" fill="#fff">16,500</text>
<rect x="928.70" y="435.89" width="45.00" height="15.8" rx="2" fill="#546E7A" fill-opacity="0.9" stroke="#fff" stroke-width="1"/>
<text x="951.20" y="447.49" text-anchor="middle" font-size="12" font-weight="bold" fill="#fff">18,700</text>
<rect x="1055.45" y="437.23" width="45.00" height="15.8" rx="2" fill="#546E7A" fill-opacity="0.9" stroke="#fff" stroke-width="1"/>
<text x="1077.95" y="448.83" text-anchor="middle" font-size="12" font-weight="bold" fill="#fff">17,200</text>
<rect x="1182.20" y="436.69" width="45.00" height="15.8" rx="2" fill="#546E7A" fill-opacity="0.9" stroke="#fff" stroke-width="1"/>
<text x="1204.70" y="448.29" text-anchor="middle" font-size="12" font-weight="bold" fill="#fff">17,800</text>
<rect x="1308.95" y="438.75" width="45.00" height="15.8" rx="2" fill="#546E7A" fill-opacity="0.9" stroke="#fff" stroke-width="1"/>
<text x="1331.45" y="450.35" text-anchor="middle" font-size="12" font-weight="bold" fill="#fff">15,500</text>
<rect x="1439.04" y="444.22" width="38.32" height="15.8" rx="2" fill="#546E7A" fill-opacity="0.9" stroke="#fff" stroke-width="1"/>
<text x="1458.20" y="455.82" text-anchor="middle" font-size="12" font-weight="bold" fill="#fff">9,400</text>
<rect x="1565.79" y="445.48" width="38.32" height="15.8" rx="2" fill="#546E7A" fill-opacity="0.9" stroke="#fff" stroke-width="1"/>
<text x="1584.95" y="457.08" text-anchor="middle" font-size="12" font-weight="bold" fill="#fff">8,000</text>
<rect x="1689.20" y="438.66" width="45.00" height="15.8" rx="2" fill="#546E7A" fill-opacity="0.9" stroke="#fff" stroke-width="1"/>
<text x="1711.70" y="450.26" text-anchor="middle" font-size="12" font-weight="bold" fill="#fff">15,600</text>
<rect x="1815.95" y="436.69" width="45.00" height="15.8" rx="2" fill="#546E7A" fill-opacity="0.9" stroke="#fff" stroke-width="1"/>
<text x="1838.45" y="448.29" text-anchor="middle" font-size="12" font-weight="bold" fill="#fff">17,800</text>
<rect x="41.45" y="436.51" width="45.00" height="15.8" rx="2" fill="#26A69A" fill-opacity="0.9" stroke="#fff" stroke-width="1"/>
<text x="63.95" y="448.11" text-anchor="middle" font-size="12" font-weight="bold" fill="#fff">18,003</text>
<rect x="168.20" y="437.31" width="45.00" height="15.8" rx="2" fill="#26A69A" fill-opacity="0.9" stroke="#fff" stroke-width="1"/>
<text x="190.70" y="448.91" text-anchor="middle" font-size="12" font-weight="bold" fill="#fff">17,114</text>
<rect x="294.95" y="437.16" width="45.00" height="15.8" rx="2" fill="#26A69A" fill-opacity="0.9" stroke="#fff" stroke-width="1"/>
<text x="317.45" y="448.76" text-anchor="middle" font-size="12" font-weight="bold" fill="#fff">17,278</text>
<rect x="421.70" y="438.80" width="45.00" height="15.8" rx="2" fill="#26A69A" fill-opacity="0.9" stroke="#fff" stroke-width="1"/>
<text x="444.20" y="450.40" text-anchor="middle" font-size="12" font-weight="bold" fill="#fff">15,453</text>
<rect x="551.79" y="444.58" width="38.32" height="15.8" rx="2" fill="#26A69A" fill-opacity="0.9" stroke="#fff" stroke-width="1"/>
<text x="570.95" y="456.18" text-anchor="middle" font-size="12" font-weight="bold" fill="#fff">9,000</text>
<rect x="678.54" y="445.59" width="38.32" height="15.8" rx="2" fill="#26A69A" fill-opacity="0.9" stroke="#fff" stroke-width="1"/>
<text x="697.70" y="457.19" text-anchor="middle" font-size="12" font-weight="bold" fill="#fff">7,880</text>
<rect x="801.95" y="438.74" width="45.00" height="15.8" rx="2" fill="#26A69A" fill-opacity="0.9" stroke="#fff" stroke-width="1"/>
<text x="824.45" y="450.34" text-anchor="middle" font-size="12" font-weight="bold" fill="#fff">15,515</text>
<rect x="928.70" y="439.56" width="45.00" height="15.8" rx="2" fill="#26A69A" fill-opacity="0.9" stroke="#fff" stroke-width="1"/>
<text x="951.20" y="451.16" text-anchor="middle" font-size="12" font-weight="bold" fill="#fff">14,600</text>
<rect x="1055.45" y="437.59" width="45.00" height="15.8" rx="2" fill="#26A69A" fill-opacity="0.9" stroke="#fff" stroke-width="1"/>
<text x="1077.95" y="449.19" text-anchor="middle" font-size="12" font-weight="bold" fill="#fff">16,797</text>
<rect x="1182.20" y="439.29" width="45.00" height="15.8" rx="2" fill="#26A69A" fill-opacity="0.9" stroke="#fff" stroke-width="1"/>
<text x="1204.70" y="450.89" text-anchor="middle" font-size="12" font-weight="bold" fill="#fff">14,900</text>
<rect x="1308.95" y="440.99" width="45.00" height="15.8" rx="2" fill="#26A69A" fill-opacity="0.9" stroke="#fff" stroke-width="1"/>
<text x="1331.45" y="452.59" text-anchor="middle" font-size="12" font-weight="bold" fill="#fff">13,004</text>
<rect x="1439.04" y="443.95" width="38.32" height="15.8" rx="2" fill="#26A69A" fill-opacity="0.9" stroke="#fff" stroke-width="1"/>
<text x="1458.20" y="455.55" text-anchor="middle" font-size="12" font-weight="bold" fill="#fff">9,700</text>
<rect x="1565.79" y="445.68" width="38.32" height="15.8" rx="2" fill="#26A69A" fill-opacity="0.9" stroke="#fff" stroke-width="1"/>
<text x="1584.95" y="457.28" text-anchor="middle" font-size="12" font-weight="bold" fill="#fff">7,780</text>
<rect x="1689.20" y="439.04" width="45.00" height="15.8" rx="2" fill="#26A69A" fill-opacity="0.9" stroke="#fff" stroke-width="1"/>
<text x="1711.70" y="450.64" text-anchor="middle" font-size="12" font-weight="bold" fill="#fff">15,179</text>
<rect x="1815.95" y="437.61" width="45.00" height="15.8" rx="2" fill="#26A69A" fill-opacity="0.9" stroke="#fff" stroke-width="1"/>
<text x="1838.45" y="449.21" text-anchor="middle" font-size="12" font-weight="bold" fill="#fff">16,773</text>
<rect x="44.79" y="446.11" width="38.32" height="15.8" rx="2" fill="#D10CE8" fill-opacity="0.9" stroke="#fff" stroke-width="1"/>
<text x="63.95" y="457.71" text-anchor="middle" font-size="12" font-weight="bold" fill="#fff">7,300</text>
<rect x="171.54" y="446.20" width="38.32" height="15.8" rx="2" fill="#D10CE8" fill-opacity="0.9" stroke="#fff" stroke-width="1"/>
<text x="190.70" y="457.80" text-anchor="middle" font-size="12" font-weight="bold" fill="#fff">7,200</text>
<rect x="298.29" y="446.37" width="38.32" height="15.8" rx="2" fill="#D10CE8" fill-opacity="0.9" stroke="#fff" stroke-width="1"/>
<text x="317.45" y="457.97" text-anchor="middle" font-size="12" font-weight="bold" fill="#fff">7,000</text>
<rect x="425.04" y="446.37" width="38.32" height="15.8" rx="2" fill="#D10CE8" fill-opacity="0.9" stroke="#fff" stroke-width="1"/>
<text x="444.20" y="457.97" text-anchor="middle" font-size="12" font-weight="bold" fill="#fff">7,000</text>
<rect x="551.79" y="446.02" width="38.32" height="15.8" rx="2" fill="#D10CE8" fill-opacity="0.9" stroke="#fff" stroke-width="1"/>
<text x="570.95" y="457.62" text-anchor="middle" font-size="12" font-weight="bold" fill="#fff">7,400</text>
<rect x="678.54" y="447.90" width="38.32" height="15.8" rx="2" fill="#D10CE8" fill-opacity="0.9" stroke="#fff" stroke-width="1"/>
<text x="697.70" y="459.50" text-anchor="middle" font-size="12" font-weight="bold" fill="#fff">5,300</text>
<rect x="805.29" y="446.46" width="38.32" height="15.8" rx="2" fill="#D10CE8" fill-opacity="0.9" stroke="#fff" stroke-width="1"/>
<text x="824.45" y="458.06" text-anchor="middle" font-size="12" font-weight="bold" fill="#fff">6,900</text>
<rect x="932.04" y="445.21" width="38.32" height="15.8" rx="2" fill="#D10CE8" fill-opacity="0.9" stroke="#fff" stroke-width="1"/>
<text x="951.20" y="456.81" text-anchor="middle" font-size="12" font-weight="bold" fill="#fff">8,300</text>
<rect x="1058.79" y="445.30" width="38.32" height="15.8" rx="2" fill="#D10CE8" fill-opacity="0.9" stroke="#fff" stroke-width="1"/>
<text x="1077.95" y="456.90" text-anchor="middle" font-size="12" font-weight="bold" fill="#fff">8,200</text>
<rect x="1185.54" y="445.39" width="38.32" height="15.8" rx="2" fill="#D10CE8" fill-opacity="0.9" stroke="#fff" stroke-width="1"/>
<text x="1204.70" y="456.99" text-anchor="middle" font-size="12" font-weight="bold" fill="#fff">8,100</text>
<rect x="1312.29" y="446.55" width="38.32" height="15.8" rx="2" fill="#D10CE8" fill-opacity="0.9" stroke="#fff" stroke-width="1"/>
<text x="1331.45" y="458.15" text-anchor="middle" font-size="12" font-weight="bold" fill="#fff">6,800</text>
<rect x="1439.04" y="446.02" width="38.32" height="15.8" rx="2" fill="#D10CE8" fill-opacity="0.9" stroke="#fff" stroke-width="1"/>
<text x="1458.20" y="457.62" text-anchor="middle" font-size="12" font-weight="bold" fill="#fff">7,400</text>
<rect x="1565.79" y="447.72" width="38.32" height="15.8" rx="2" fill="#D10CE8" fill-opacity="0.9" stroke="#fff" stroke-width="1"/>
<text x="1584.95" y="459.32" text-anchor="middle" font-size="12" font-weight="bold" fill="#fff">5,500</text>
<rect x="1692.54" y="446.64" width="38.32" height="15.8" rx="2" fill="#D10CE8" fill-opacity="0.9" stroke="#fff" stroke-width="1"/>
<text x="1711.70" y="458.24" text-anchor="middle" font-size="12" font-weight="bold" fill="#fff">6,700</text>
<rect x="1819.29" y="445.39" width="38.32" height="15.8" rx="2" fill="#D10CE8" fill-opacity="0.9" stroke="#fff" stroke-width="1"/>
<text x="1838.45" y="456.99" text-anchor="middle" font-size="12" font-weight="bold" fill="#fff">8,100</text>
<rect x="44.79" y="447.45" width="38.32" height="15.8" rx="2" fill="#8D6E63" fill-opacity="0.9" stroke="#fff" stroke-width="1"/>
<text x="63.95" y="459.05" text-anchor="middle" font-size="12" font-weight="bold" fill="#fff">5,800</text>
<rect x="171.54" y="447.54" width="38.32" height="15.8" rx="2" fill="#8D6E63" fill-opacity="0.9" stroke="#fff" stroke-width="1"/>
<text x="190.70" y="459.14" text-anchor="middle" font-size="12" font-weight="bold" fill="#fff">5,700</text>
<rect x="298.29" y="447.63" width="38.32" height="15.8" rx="2" fill="#8D6E63" fill-opacity="0.9" stroke="#fff" stroke-width="1"/>
<text x="317.45" y="459.23" text-anchor="middle" font-size="12" font-weight="bold" fill="#fff">5,600</text>
<rect x="425.04" y="447.72" width="38.32" height="15.8" rx="2" fill="#8D6E63" fill-opacity="0.9" stroke="#fff" stroke-width="1"/>
<text x="444.20" y="459.32" text-anchor="middle" font-size="12" font-weight="bold" fill="#fff">5,500</text>
<rect x="551.79" y="448.17" width="38.32" height="15.8" rx="2" fill="#8D6E63" fill-opacity="0.9" stroke="#fff" stroke-width="1"/>
<text x="570.95" y="459.77" text-anchor="middle" font-size="12" font-weight="bold" fill="#fff">5,000</text>
<rect x="678.54" y="449.24" width="38.32" height="15.8" rx="2" fill="#8D6E63" fill-opacity="0.9" stroke="#fff" stroke-width="1"/>
<text x="697.70" y="460.84" text-anchor="middle" font-size="12" font-weight="bold" fill="#fff">3,800</text>
<rect x="805.29" y="447.90" width="38.32" height="15.8" rx="2" fill="#8D6E63" fill-opacity="0.9" stroke="#fff" stroke-width="1"/>
<text x="824.45" y="459.50" text-anchor="middle" font-size="12" font-weight="bold" fill="#fff">5,300</text>
<rect x="932.04" y="447.45" width="38.32" height="15.8" rx="2" fill="#8D6E63" fill-opacity="0.9" stroke="#fff" stroke-width="1"/>
<text x="951.20" y="459.05" text-anchor="middle" font-size="12" font-weight="bold" fill="#fff">5,800</text>
<rect x="1058.79" y="447.45" width="38.32" height="15.8" rx="2" fill="#8D6E63" fill-opacity="0.9" stroke="#fff" stroke-width="1"/>
<text x="1077.95" y="459.05" text-anchor="middle" font-size="12" font-weight="bold" fill="#fff">5,800</text>
<rect x="1185.54" y="447.27" width="38.32" height="15.8" rx="2" fill="#8D6E63" fill-opacity="0.9" stroke="#fff" stroke-width="1"/>
<text x="1204.70" y="458.87" text-anchor="middle" font-size="12" font-weight="bold" fill="#fff">6,000</text>
<rect x="1312.29" y="447.72" width="38.32" height="15.8" rx="2" fill="#8D6E63" fill-opacity="0.9" stroke="#fff" stroke-width="1"/>
<text x="1331.45" y="459.32" text-anchor="middle" font-size="12" font-weight="bold" fill="#fff">5,500</text>
<rect x="1439.04" y="449.24" width="38.32" height="15.8" rx="2" fill="#8D6E63" fill-opacity="0.9" stroke="#fff" stroke-width="1"/>
<text x="1458.20" y="460.84" text-anchor="middle" font-size="12" font-weight="bold" fill="#fff">3,800</text>
<rect x="1565.79" y="449.06" width="38.32" height="15.8" rx="2" fill="#8D6E63" fill-opacity="0.9" stroke="#fff" stroke-width="1"/>
<text x="1584.95" y="460.66" text-anchor="middle" font-size="12" font-weight="bold" fill="#fff">4,000</text>
<rect x="1692.54" y="447.63" width="38.32" height="15.8" rx="2" fill="#8D6E63" fill-opacity="0.9" stroke="#fff" stroke-width="1"/>
<text x="1711.70" y="459.23" text-anchor="middle" font-size="12" font-weight="bold" fill="#fff">5,600</text>
<rect x="1819.29" y="447.27" width="38.32" height="15.8" rx="2" fill="#8D6E63" fill-opacity="0.9" stroke="#fff" stroke-width="1"/>
<text x="1838.45" y="458.87" text-anchor="middle" font-size="12" font-weight="bold" fill="#fff">6,000</text>
<rect x="44.79" y="449.24" width="38.32" height="15.8" rx="2" fill="#F058B0" fill-opacity="0.9" stroke="#fff" stroke-width="1"/>
<text x="63.95" y="460.84" text-anchor="middle" font-size="12" font-weight="bold" fill="#fff">3,800</text>
<rect x="171.54" y="449.06" width="38.32" height="15.8" rx="2" fill="#F058B0" fill-opacity="0.9" stroke="#fff" stroke-width="1"/>
<text x="190.70" y="460.66" text-anchor="middle" font-size="12" font-weight="bold" fill="#fff">4,000</text>
<rect x="298.29" y="449.69" width="38.32" height="15.8" rx="2" fill="#F058B0" fill-opacity="0.9" stroke="#fff" stroke-width="1"/>
<text x="317.45" y="461.29" text-anchor="middle" font-size="12" font-weight="bold" fill="#fff">3,300</text>
<rect x="425.04" y="449.60" width="38.32" height="15.8" rx="2" fill="#F058B0" fill-opacity="0.9" stroke="#fff" stroke-width="1"/>
<text x="444.20" y="461.20" text-anchor="middle" font-size="12" font-weight="bold" fill="#fff">3,400</text>
<rect x="551.79" y="450.41" width="38.32" height="15.8" rx="2" fill="#F058B0" fill-opacity="0.9" stroke="#fff" stroke-width="1"/>
<text x="570.95" y="462.01" text-anchor="middle" font-size="12" font-weight="bold" fill="#fff">2,500</text>
<rect x="678.54" y="450.68" width="38.32" height="15.8" rx="2" fill="#F058B0" fill-opacity="0.9" stroke="#fff" stroke-width="1"/>
<text x="697.70" y="462.28" text-anchor="middle" font-size="12" font-weight="bold" fill="#fff">2,200</text>
<rect x="805.29" y="449.87" width="38.32" height="15.8" rx="2" fill="#F058B0" fill-opacity="0.9" stroke="#fff" stroke-width="1"/>
<text x="824.45" y="461.47" text-anchor="middle" font-size="12" font-weight="bold" fill="#fff">3,100</text>
<rect x="932.04" y="449.24" width="38.32" height="15.8" rx="2" fill="#F058B0" fill-opacity="0.9" stroke="#fff" stroke-width="1"/>
<text x="951.20" y="460.84" text-anchor="middle" font-size="12" font-weight="bold" fill="#fff">3,800</text>
<rect x="1058.79" y="448.80" width="38.32" height="15.8" rx="2" fill="#F058B0" fill-opacity="0.9" stroke="#fff" stroke-width="1"/>
<text x="1077.95" y="460.40" text-anchor="middle" font-size="12" font-weight="bold" fill="#fff">4,300</text>
<rect x="1185.54" y="449.69" width="38.32" height="15.8" rx="2" fill="#F058B0" fill-opacity="0.9" stroke="#fff" stroke-width="1"/>
<text x="1204.70" y="461.29" text-anchor="middle" font-size="12" font-weight="bold" fill="#fff">3,300</text>
<rect x="1312.29" y="449.33" width="38.32" height="15.8" rx="2" fill="#F058B0" fill-opacity="0.9" stroke="#fff" stroke-width="1"/>
<text x="1331.45" y="460.93" text-anchor="middle" font-size="12" font-weight="bold" fill="#fff">3,700</text>
<rect x="1439.04" y="450.59" width="38.32" height="15.8" rx="2" fill="#F058B0" fill-opacity="0.9" stroke="#fff" stroke-width="1"/>
<text x="1458.20" y="462.19" text-anchor="middle" font-size="12" font-weight="bold" fill="#fff">2,300</text>
<rect x="1565.79" y="449.51" width="38.32" height="15.8" rx="2" fill="#F058B0" fill-opacity="0.9" stroke="#fff" stroke-width="1"/>
<text x="1584.95" y="461.11" text-anchor="middle" font-size="12" font-weight="bold" fill="#fff">3,500</text>
<rect x="1692.54" y="449.60" width="38.32" height="15.8" rx="2" fill="#F058B0" fill-opacity="0.9" stroke="#fff" stroke-width="1"/>
<text x="1711.70" y="461.20" text-anchor="middle" font-size="12" font-weight="bold" fill="#fff">3,400</text>
<rect x="1819.29" y="449.60" width="38.32" height="15.8" rx="2" fill="#F058B0" fill-opacity="0.9" stroke="#fff" stroke-width="1"/>
<text x="1838.45" y="461.20" text-anchor="middle" font-size="12" font-weight="bold" fill="#fff">3,400</text>
<rect x="44.79" y="449.70" width="38.32" height="15.8" rx="2" fill="#FFB24B" fill-opacity="0.9" stroke="#fff" stroke-width="1"/>
<text x="63.95" y="461.30" text-anchor="middle" font-size="12" font-weight="bold" fill="#fff">3,294</text>
<rect x="171.54" y="449.43" width="38.32" height="15.8" rx="2" fill="#FFB24B" fill-opacity="0.9" stroke="#fff" stroke-width="1"/>
<text x="190.70" y="461.03" text-anchor="middle" font-size="12" font-weight="bold" fill="#fff">3,593</text>
<rect x="298.29" y="450.03" width="38.32" height="15.8" rx="2" fill="#FFB24B" fill-opacity="0.9" stroke="#fff" stroke-width="1"/>
<text x="317.45" y="461.63" text-anchor="middle" font-size="12" font-weight="bold" fill="#fff">2,919</text>
<rect x="425.04" y="449.99" width="38.32" height="15.8" rx="2" fill="#FFB24B" fill-opacity="0.9" stroke="#fff" stroke-width="1"/>
<text x="444.20" y="461.59" text-anchor="middle" font-size="12" font-weight="bold" fill="#fff">2,969</text>
<rect x="551.79" y="450.79" width="38.32" height="15.8" rx="2" fill="#FFB24B" fill-opacity="0.9" stroke="#fff" stroke-width="1"/>
<text x="570.95" y="462.39" text-anchor="middle" font-size="12" font-weight="bold" fill="#fff">2,078</text>
<rect x="678.54" y="451.10" width="38.32" height="15.8" rx="2" fill="#FFB24B" fill-opacity="0.9" stroke="#fff" stroke-width="1"/>
<text x="697.70" y="462.70" text-anchor="middle" font-size="12" font-weight="bold" fill="#fff">1,730</text>
<rect x="805.29" y="450.19" width="38.32" height="15.8" rx="2" fill="#FFB24B" fill-opacity="0.9" stroke="#fff" stroke-width="1"/>
<text x="824.45" y="461.79" text-anchor="middle" font-size="12" font-weight="bold" fill="#fff">2,749</text>
<rect x="932.04" y="449.64" width="38.32" height="15.8" rx="2" fill="#FFB24B" fill-opacity="0.9" stroke="#fff" stroke-width="1"/>
<text x="951.20" y="461.24" text-anchor="middle" font-size="12" font-weight="bold" fill="#fff">3,360</text>
<rect x="1058.79" y="449.13" width="38.32" height="15.8" rx="2" fill="#FFB24B" fill-opacity="0.9" stroke="#fff" stroke-width="1"/>
<text x="1077.95" y="460.73" text-anchor="middle" font-size="12" font-weight="bold" fill="#fff">3,931</text>
<rect x="1185.54" y="450.03" width="38.32" height="15.8" rx="2" fill="#FFB24B" fill-opacity="0.9" stroke="#fff" stroke-width="1"/>
<text x="1204.70" y="461.63" text-anchor="middle" font-size="12" font-weight="bold" fill="#fff">2,924</text>
<rect x="1312.29" y="449.66" width="38.32" height="15.8" rx="2" fill="#FFB24B" fill-opacity="0.9" stroke="#fff" stroke-width="1"/>
<text x="1331.45" y="461.26" text-anchor="middle" font-size="12" font-weight="bold" fill="#fff">3,330</text>
<rect x="1439.04" y="450.95" width="38.32" height="15.8" rx="2" fill="#FFB24B" fill-opacity="0.9" stroke="#fff" stroke-width="1"/>
<text x="1458.20" y="462.55" text-anchor="middle" font-size="12" font-weight="bold" fill="#fff">1,892</text>
<rect x="1565.79" y="451.25" width="38.32" height="15.8" rx="2" fill="#FFB24B" fill-opacity="0.9" stroke="#fff" stroke-width="1"/>
<text x="1584.95" y="462.85" text-anchor="middle" font-size="12" font-weight="bold" fill="#fff">1,563</text>
<rect x="1692.54" y="451.47" width="38.32" height="15.8" rx="2" fill="#FFB24B" fill-opacity="0.9" stroke="#fff" stroke-width="1"/>
<text x="1711.70" y="463.07" text-anchor="middle" font-size="12" font-weight="bold" fill="#fff">1,311</text>
<rect x="1819.29" y="451.53" width="38.32" height="15.8" rx="2" fill="#FFB24B" fill-opacity="0.9" stroke="#fff" stroke-width="1"/>
<text x="1838.45" y="463.13" text-anchor="middle" font-size="12" font-weight="bold" fill="#fff">1,253</text>
</svg>
<div style="position:absolute;left:646.4px;top:504.3px;width:13px;height:13px;border-radius:50%;background:#008FFB;box-shadow:0 0 0 1px #fff"></div>
<div style="position:absolute;left:662.3px;top:503.5px;font-size:12px;line-height:14px;color:#373d3f;white-space:nowrap">product</div>
<div style="position:absolute;left:713.4px;top:504.3px;width:13px;height:13px;border-radius:50%;background:#00E396;box-shadow:0 0 0 1px #fff"></div>
<div style="position:absolute;left:729.5px;top:503.5px;font-size:12px;line-height:14px;color:#373d3f;white-space:nowrap">home</div>
<div style="position:absolute;left:770.4px;top:504.3px;width:13px;height:13px;border-radius:50%;background:#FEB019;box-shadow:0 0 0 1px #fff"></div>
<div style="position:absolute;left:786.2px;top:503.5px;font-size:12px;line-height:14px;color:#373d3f;white-space:nowrap">plan</div>
<div style="position:absolute;left:820.4px;top:504.3px;width:13px;height:13px;border-radius:50%;background:#775DD0;box-shadow:0 0 0 1px #fff"></div>
<div style="position:absolute;left:836.3px;top:503.5px;font-size:12px;line-height:14px;color:#373d3f;white-space:nowrap">onlyhalf</div>
<div style="position:absolute;left:888.4px;top:504.3px;width:13px;height:13px;border-radius:50%;background:#546E7A;box-shadow:0 0 0 1px #fff"></div>
<div style="position:absolute;left:904.5px;top:503.5px;font-size:12px;line-height:14px;color:#373d3f;white-space:nowrap">categories</div>
<div style="position:absolute;left:971.4px;top:504.3px;width:13px;height:13px;border-radius:50%;background:#26A69A;box-shadow:0 0 0 1px #fff"></div>
<div style="position:absolute;left:986.8px;top:503.5px;font-size:12px;line-height:14px;color:#373d3f;white-space:nowrap">login</div>
<div style="position:absolute;left:1023.3px;top:504.3px;width:13px;height:13px;border-radius:50%;background:#D10CE8;box-shadow:0 0 0 1px #fff"></div>
<div style="position:absolute;left:1039.5px;top:503.5px;font-size:12px;line-height:14px;color:#373d3f;white-space:nowrap">search</div>
<div style="position:absolute;left:1086.3px;top:504.3px;width:13px;height:13px;border-radius:50%;background:#8D6E63;box-shadow:0 0 0 1px #fff"></div>
<div style="position:absolute;left:1102.5px;top:503.5px;font-size:12px;line-height:14px;color:#373d3f;white-space:nowrap">brand</div>
<div style="position:absolute;left:1144.3px;top:504.3px;width:13px;height:13px;border-radius:50%;background:#F058B0;box-shadow:0 0 0 1px #fff"></div>
<div style="position:absolute;left:1160.2px;top:503.5px;font-size:12px;line-height:14px;color:#373d3f;white-space:nowrap">best</div>
<div style="position:absolute;left:1193.5px;top:504.3px;width:13px;height:13px;border-radius:50%;background:#FFB24B;box-shadow:0 0 0 1px #fff"></div>
<div style="position:absolute;left:1209.5px;top:503.5px;font-size:12px;line-height:14px;color:#373d3f;white-space:nowrap">deal</div>
</body></html>
